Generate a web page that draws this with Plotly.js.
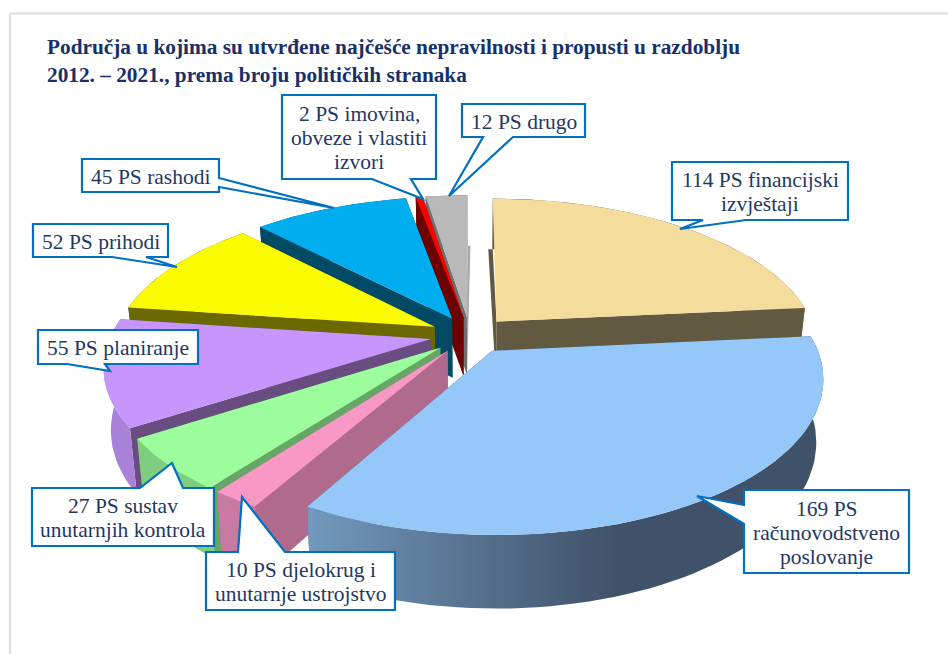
<!DOCTYPE html>
<html>
<head>
<meta charset="utf-8">
<script src="https://cdn.plot.ly/plotly-3.0.1.min.js"></script>
<style>html,body{margin:0;padding:0;background:#fff}#chart{width:948px;height:654px}</style>
</head>
<body>
<div id="chart"></div>
<script>
// ---- data, clockwise from 12 o'clock ----
const categories = ["financijski izvještaji","računovodstveno poslovanje","djelokrug i unutarnje ustrojstvo","sustav unutarnjih kontrola","planiranje","prihodi","rashodi","imovina, obveze i vlastiti izvori","drugo"];
const values = [114,169,10,27,55,52,45,2,12];
const labels = ["114 PS financijski<br>izvještaji","169 PS<br>računovodstveno<br>poslovanje","10 PS djelokrug i<br>unutarnje ustrojstvo","27 PS sustav<br>unutarnjih kontrola","55 PS planiranje","52 PS prihodi","45 PS rashodi","2 PS imovina,<br>obveze i vlastiti<br>izvori","12 PS drugo"];
const topColors = ["#f4dc9c","#95c7f9","#f997c5","#9bfd9b","#c796fc","#fafa00","#00aeef","#ff0000","#b9b9b9"];
const wallColors = ["#625a40","#3f5269","#b06a8c","#66a666","#6a4d80","#6c6800","#004a66","#6e0000","#6f6f6f"];
const arcColors = ["#625a40","#5a7692","#c97aa0","#7fce7f","#a982d8","#6c6800","#004a66","#6e0000","#6f6f6f"];
const title = "Područja u kojima su utvrđene najčešće nepravilnosti i propusti u razdoblju<br>2012. – 2021., prema broju političkih stranaka";

// ---- view (perspective of the exploded disk) ----
const view = {cx:470, cy:335, R:320, Rk:147.6, persp:0.167, depth:60, pull:0.125, shrink:0.02};
function project(a,b,z){
  const s = 1/(1+view.persp*b);
  return [view.cx + view.R*a*s*(1-view.shrink*z), view.cy - view.Rk*b*s + view.depth*s*z];
}
const total = values.reduce((p,c)=>p+c,0);
const rad = d => d*Math.PI/180;
let acc = 0;
const slices = values.map((v,i)=>{
  const t0 = acc/total*360; acc += v; const t1 = acc/total*360;
  const m = rad((t0+t1)/2);
  return {i,t0,t1,ox:view.pull*Math.sin(m),oy:view.pull*Math.cos(m),mid:Math.cos(m)};
});
function arc(sl,from,to,z){
  const n = Math.max(2,Math.ceil(Math.abs(to-from)/2)), pts=[];
  for(let k=0;k<=n;k++){
    const t = rad(from+(to-from)*k/n);
    pts.push(project(sl.ox+Math.sin(t),sl.oy+Math.cos(t),z));
  }
  return pts;
}
function poly(pts,color,name,grad){
  const tr = {type:'scatter',mode:'lines',x:pts.map(p=>p[0]),y:pts.map(p=>p[1]),fill:'toself',fillcolor:color,
    line:{width:0,color:color},name:name,hoverinfo:'name',showlegend:false};
  if(grad) tr.fillgradient = grad;
  return tr;
}
const traces = [];
const order = slices.slice();
order.sort((p,q)=>(Math.abs(q.mid-p.mid)<1e-6)?(q.t0-p.t0):(q.mid-p.mid));
const last = slices.length-1;
order.forEach(sl=>{
  const i = sl.i, name = categories[i]+': '+values[i];
  const a0 = project(sl.ox,sl.oy,0), a1 = project(sl.ox,sl.oy,1);
  const p0t = arc(sl,sl.t0,sl.t0,0)[0], p0b = arc(sl,sl.t0,sl.t0,1)[0];
  const p1t = arc(sl,sl.t1,sl.t1,0)[0], p1b = arc(sl,sl.t1,sl.t1,1)[0];
  // the walls either side of the 12 o'clock gap lean into it, below the top rim
  const w0 = [a0,p0t,p0b,a1,a0], w1 = [a0,p1t,p1b,a1,a0];
  if(i===0){ p0b[0] -= 4; w0[1] = [p0t[0],p0b[1]]; }
  if(i===last){ p1b[0] += 3; w1[1] = [p1t[0],p1b[1]]; }
  traces.push(poly(w0,wallColors[i],name));
  traces.push(poly(w1,i===last?'#a8a8a8':wallColors[i],name));
  const top = arc(sl,sl.t0,sl.t1,0), bot = arc(sl,sl.t0,sl.t1,1).reverse();
  const grad = (i===1) ? {type:'horizontal',colorscale:[[0,'#7399bf'],[0.3,'#587491'],[0.6,'#3f5269'],[1,'#3f5269']]} : null;
  traces.push(poly(top.concat(bot,[top[0]]),arcColors[i],name,grad));
  traces.push(poly([a0].concat(top,[a0]),topColors[i],name));
});

// ---- callouts ----
const boxes = [
  {b:[672,162,848,220], tail:[[746,220],[680,229],[703,220]]},
  {b:[744,490,909,573], tail:[[744,524],[697,496],[744,505]]},
  {b:[206,552,395,610], tail:[[238,552],[242,497],[285,552]]},
  {b:[32,488,214,546],  tail:[[140,488],[172,463],[183,488]]},
  {b:[38,330,198,364],  tail:[[105,364],[110,371],[67,364]]},
  {b:[33,224,168,257],  tail:[[146,257],[177,267],[112,257]]},
  {b:[82,159,219,192],  tail:[[219,178],[334,208],[219,187]]},
  {b:[282,95,436,179],  tail:[[411,179],[423,199],[372,179]]},
  {b:[462,104,585,137], tail:[[513,137],[449,196],[483,137]]}
];
function calloutPath(c){
  const [l,t,r,b] = c.b, tp = c.tail;
  const side = (p)=> p[1]===t?0 : p[0]===r?1 : p[1]===b?2 : 3;
  const s = side(tp[0]);
  const corners = [[r,t],[r,b],[l,b],[l,t]];
  const seq = [[l,t]];
  for(let k=0;k<4;k++){
    if(k===s) tp.forEach(p=>seq.push(p));
    seq.push(corners[k]);
  }
  return 'M'+seq.map(p=>p[0]+','+p[1]).join('L')+'Z';
}
const shapes = boxes.map(c=>({type:'path',xref:'x',yref:'y',layer:'above',path:calloutPath(c),
  fillcolor:'#ffffff',line:{color:'#0070c0',width:2.2}}));
shapes.push({type:'line',xref:'paper',yref:'paper',x0:10/948,x1:1,y0:1-13.5/654,y1:1-13.5/654,line:{color:'#e2e2e2',width:2.5},layer:'below'});
shapes.push({type:'line',xref:'paper',yref:'paper',x0:10/948,x1:10/948,y0:0,y1:1-13.5/654,line:{color:'#e2e2e2',width:2.5},layer:'below'});

const lineGap = 24;
const annotations = [];
boxes.forEach((c,i)=>{
  const lines = labels[i].split('<br>');
  lines.forEach((txt,k)=>{
    annotations.push({x:(c.b[0]+c.b[2])/2,y:(c.b[1]+c.b[3])/2+1+(k-(lines.length-1)/2)*lineGap,xref:'x',yref:'y',text:txt,showarrow:false,
      xanchor:'center',yanchor:'middle',align:'center',font:{family:'"Liberation Serif",serif',size:21.5,color:'#1f3864'}});
  });
});

Plotly.newPlot('chart',traces,{
  width:948,height:654,margin:{l:0,r:0,t:0,b:0},paper_bgcolor:'#fff',plot_bgcolor:'#fff',showlegend:false,
  xaxis:{range:[0,948],visible:false,fixedrange:true},
  yaxis:{range:[654,0],visible:false,fixedrange:true},
  title:{text:title,x:47/948,xanchor:'left',xref:'paper',y:1-54/654,yanchor:'middle',yref:'paper',
    font:{family:'"Liberation Serif",serif',size:21.3,color:'#17306b',weight:'bold'}},
  shapes:shapes,annotations:annotations
},{displayModeBar:false});
</script>
</body>
</html>
